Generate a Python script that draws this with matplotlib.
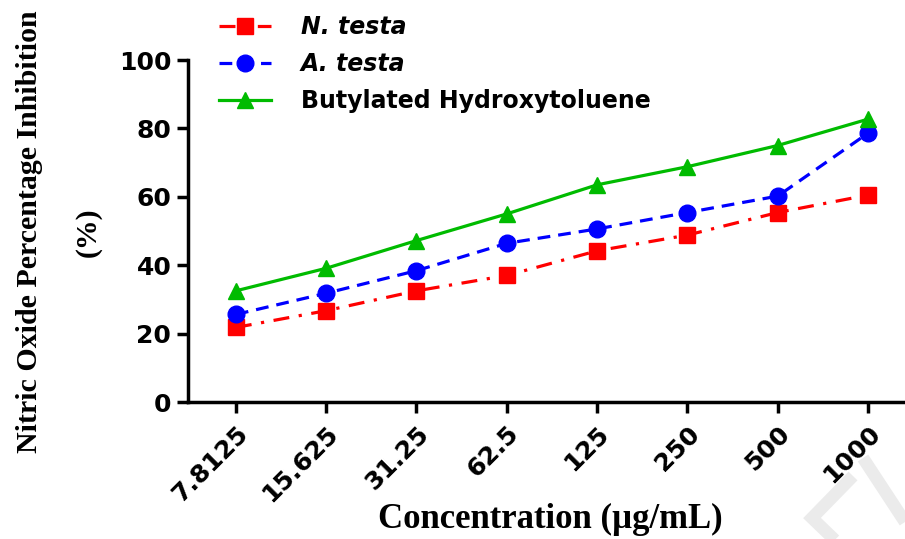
import matplotlib
matplotlib.use("Agg")
import matplotlib.pyplot as plt
from matplotlib.lines import Line2D

categories = ["7.8125", "15.625", "31.25", "62.5", "125", "250", "500", "1000"]
n_testa = [21.8, 26.7, 32.5, 37.0, 44.2, 48.8, 55.4, 60.5]
a_testa = [25.6, 31.8, 38.4, 46.4, 50.6, 55.4, 60.2, 78.6]
bht = [32.5, 39.1, 47.2, 55.0, 63.5, 68.8, 75.0, 82.7]
yticks = [0, 20, 40, 60, 80, 100]

W, H = 905, 539
fig = plt.figure(figsize=(W/100, H/100), dpi=100)

# faint watermark strokes (bottom right)
wm = dict(color="#ebebeb", lw=9, solid_capstyle="butt", solid_joinstyle="miter", zorder=0)
fig.add_artist(Line2D([863/W, 905/W], [1-458/H, 1-522/H], transform=fig.transFigure, **wm))
fig.add_artist(Line2D([853/W, 812/W, 840/W], [1-476/H, 1-518/H, 1-545/H], transform=fig.transFigure, **wm))

ax = fig.add_axes([188/W, 1-402/H, 1-188/W, (402-60)/H])
ax.patch.set_alpha(0)

x = list(range(len(categories)))
l1, = ax.plot(x, n_testa, color="#FF0000", lw=2.3, ls=(0, (5, 3, 1, 3)),
              marker="s", ms=11, label="N. testa", clip_on=False)
l2, = ax.plot(x, a_testa, color="#0000FF", lw=2.3, ls=(0, (4, 2.5)),
              marker="o", ms=12, label="A. testa", clip_on=False)
l3, = ax.plot(x, bht, color="#00BB00", lw=2.3, ls="-",
              marker="^", ms=12, label="Butylated Hydroxytoluene", clip_on=False)

ax.set_xlim(-0.53, 7.41)
ax.set_ylim(0, 100)
ax.set_yticks(yticks)
ax.set_xticks(x)
ax.set_xticklabels(categories, rotation=45, ha="right", rotation_mode="anchor",
                   fontsize=18, fontweight="bold", family="DejaVu Sans")
ax.set_yticklabels([str(v) for v in yticks], fontsize=18, fontweight="bold",
                   family="DejaVu Sans")
for s in ["top", "right"]:
    ax.spines[s].set_visible(False)
for s in ["left", "bottom"]:
    ax.spines[s].set_linewidth(2.5)
ax.tick_params(axis="both", width=2.5, length=8, direction="out", pad=4, colors="black")
ax.tick_params(axis="x", pad=6)

fig.text(30/W, 1-232/H, "Nitric Oxide Percentage Inhibition", rotation=90,
         ha="center", va="center", fontsize=21.5, fontweight="bold",
         family="Liberation Serif")
fig.text(88/W, 1-232/H, "(%)", rotation=90, ha="center", va="center",
         fontsize=21.5, fontweight="bold", family="Liberation Serif")
fig.text(550/W, 1-519/H, "Concentration (µg/mL)", ha="center", va="center",
         fontsize=25, fontweight="bold", family="Liberation Serif")

leg = fig.legend(handles=[l1, l2, l3], loc="upper left",
                 bbox_to_anchor=(210/W, 1-6/H), frameon=False,
                 prop={"family": "DejaVu Sans", "weight": "bold", "size": 17},
                 handlelength=2.2, handletextpad=1.25, labelspacing=0.55,
                 borderaxespad=0)
for i, t in enumerate(leg.get_texts()):
    if i < 2:
        t.set_fontstyle("italic")

fig.savefig("out.png", dpi=100)
